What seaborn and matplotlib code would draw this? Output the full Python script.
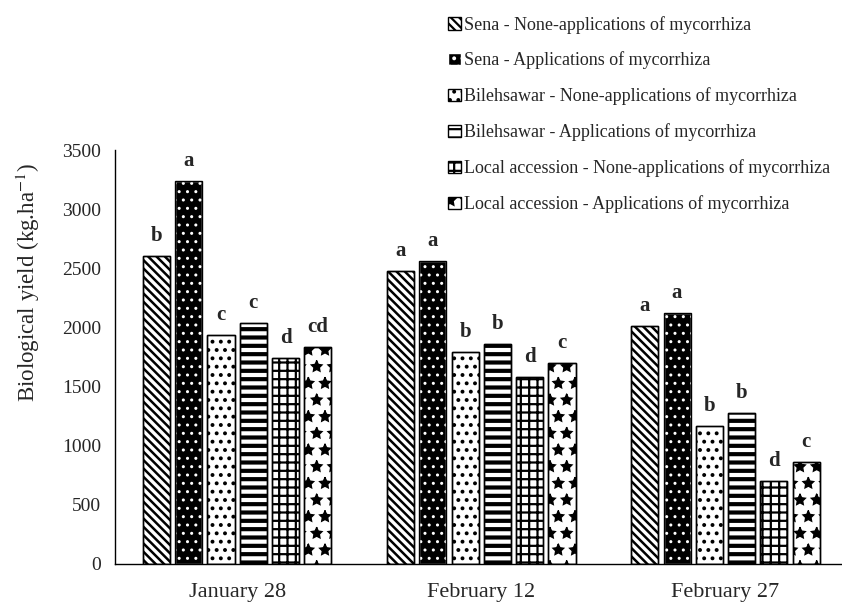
import matplotlib
matplotlib.use("Agg")
import matplotlib.pyplot as plt
import pandas as pd
import seaborn as sns
from matplotlib.patches import Patch
from matplotlib.ticker import FixedLocator

dates = ["January 28", "February 12", "February 27"]
treatments = [
    "Sena - None-applications of mycorrhiza",
    "Sena - Applications of mycorrhiza",
    "Bilehsawar - None-applications of mycorrhiza",
    "Bilehsawar - Applications of mycorrhiza",
    "Local accession - None-applications of mycorrhiza",
    "Local accession - Applications of mycorrhiza",
]
# one list per sowing date, in treatment order
yield_jan28 = [2606, 3240, 1936, 2037, 1744, 1834]
yield_feb12 = [2480, 2564, 1795, 1860, 1581, 1699]
yield_feb27 = [2012, 2122, 1169, 1277, 702, 865]
letters_jan28 = ["b", "a", "c", "c", "d", "cd"]
letters_feb12 = ["a", "a", "b", "b", "d", "c"]
letters_feb27 = ["a", "a", "b", "b", "d", "c"]

# (facecolor, hatch colour, hatch, hatch linewidth)
styles = [
    ("white", "black", "\\\\\\\\", 1.8),
    ("black", "white", "..", 1.0),
    ("white", "black", "..", 1.6),
    ("white", "black", "--", 3.0),
    ("white", "black", "++", 1.6),
    ("white", "black", "*", 1.0),
]

rows = []
for date, vals, labs in zip(dates, [yield_jan28, yield_feb12, yield_feb27],
                            [letters_jan28, letters_feb12, letters_feb27]):
    for trt, v, l in zip(treatments, vals, labs):
        rows.append({"date": date, "treatment": trt, "yield": v, "letter": l})
df = pd.DataFrame(rows)

sns.set_style("white")
plt.rcParams["font.family"] = ["Liberation Serif", "DejaVu Serif"]
plt.rcParams["mathtext.fontset"] = "stix"
plt.rcParams["hatch.linewidth"] = 1.6

fig = plt.figure(figsize=(8.42, 6.05), dpi=100)
ax = fig.add_axes([0.1366, 0.0678, 0.870, 0.684])

sns.barplot(data=df, x="date", y="yield", hue="treatment", order=dates,
            hue_order=treatments, width=0.793, gap=0.16, ax=ax,
            errorbar=None, legend=False)

n_dates = len(dates)
for i, trt in enumerate(treatments):
    face, hcol, hatch, hlw = styles[i]
    for j in range(n_dates):
        p = ax.patches[i * n_dates + j]
        p.set_facecolor(face)
        p.set_edgecolor(hcol)
        p.set_hatch(hatch)
        p.set_linewidth(1.0)
        if hasattr(p, "set_hatch_linewidth"):
            p.set_hatch_linewidth(hlw)
        ax.add_patch(plt.Rectangle((p.get_x(), p.get_y()), p.get_width(), p.get_height(),
                                   fill=False, edgecolor="black", linewidth=1.0))
        sub = df[(df["treatment"] == trt) & (df["date"] == dates[j])].iloc[0]
        ax.annotate(sub["letter"], (p.get_x() + p.get_width() / 2, p.get_height()),
                    xytext=(0, 7), textcoords="offset points", ha="center", va="bottom",
                    fontsize=15, fontweight="bold")

ax.set_ylim(0, 3500)
ax.set_yticks(range(0, 3501, 500))
ax.set_xlim(-0.5, 2.5)
ax.xaxis.set_minor_locator(FixedLocator([-0.5, 0.5, 1.5, 2.5]))
ax.tick_params(axis="x", which="major", length=0, labelsize=16, pad=14)
ax.tick_params(axis="x", which="minor", length=6, width=1, direction="out", color="black")
ax.tick_params(axis="y", length=6, width=1, direction="out", labelsize=14, color="black", pad=4)
ax.set_xlabel("")
ax.set_ylabel("Biological yield (kg.ha$^{-1}$)", fontsize=16.5)
ax.yaxis.set_label_coords(-0.100, 0.68)
for s in ["top", "right"]:
    ax.spines[s].set_visible(False)
for s in ["left", "bottom"]:
    ax.spines[s].set_color("black")
    ax.spines[s].set_linewidth(1.0)

handles = []
for face, hcol, hatch, hlw in styles:
    handles.append(Patch(facecolor=face, edgecolor="black" if face == "white" else "white",
                         hatch=hatch, linewidth=1.0))
fig.legend(handles, treatments, loc="upper left", bbox_to_anchor=(0.524, 0.986),
           frameon=False, fontsize=13, handlelength=0.7, handleheight=0.7,
           handletextpad=0.15, labelspacing=1.0, borderaxespad=0)

fig.savefig("out.png", dpi=100)
